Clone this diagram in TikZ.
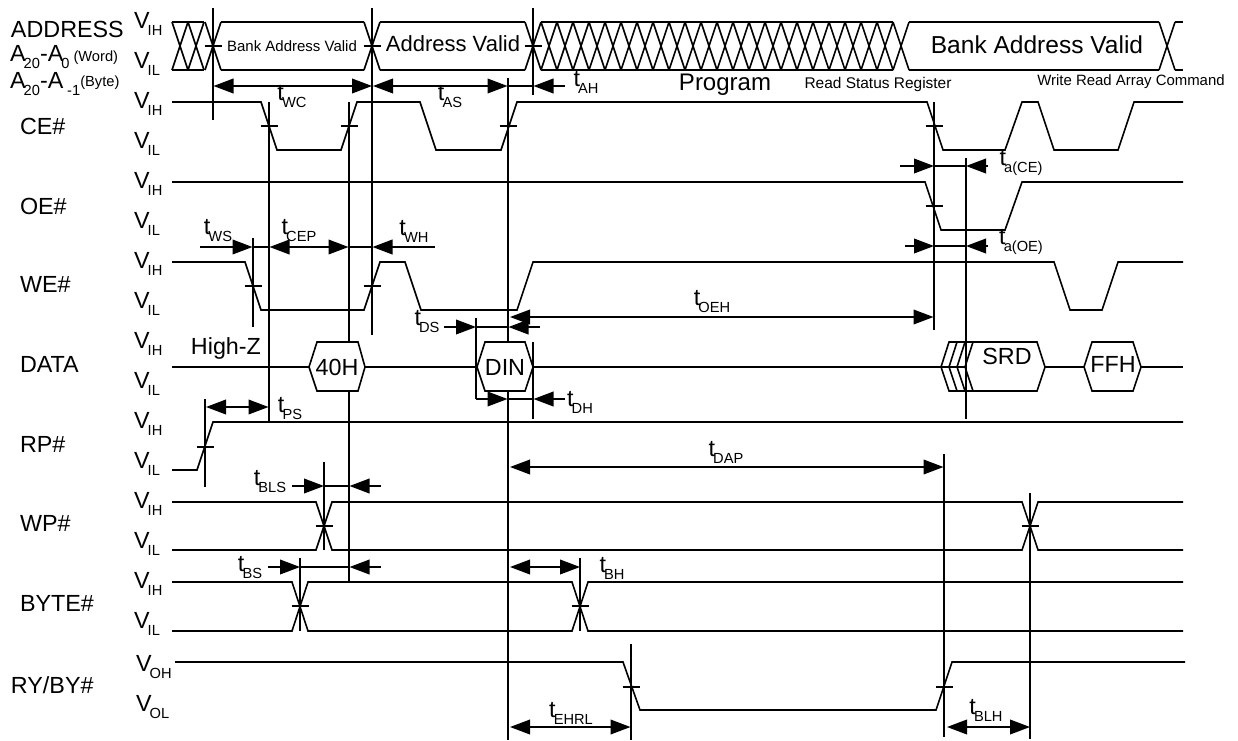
\documentclass[tikz,border=0pt]{standalone}
\usepackage{fontspec}
\setmainfont{Liberation Sans}
\usetikzlibrary{positioning,arrows.meta}
\newcommand\lsub[2]{#1\kern-1.4pt\raisebox{-.3em}{\fontsize{11}{11}\selectfont #2}}
\newcommand\smalltxt{\fontsize{11}{13}\selectfont}
\tikzset{
	vlab/.style={inner sep=0pt,text width=36pt,align=left},
	siglab/.style={inner sep=0pt,text width=60pt,align=left},
	addrlab/.style={inner sep=0pt,text width=90pt,align=left},
	tlab/.style={inner sep=0pt},
	sig/.style={line width=1.2pt},
	hexa/.style={line width=1.2pt,fill=white},
	dim/.style={line width=1.2pt}
}
\begin{document}
\begin{tikzpicture}[>={Triangle[length=15pt,width=11pt]},x=0.75pt,y=-0.75pt,node distance=30pt,font=\fontsize{17.5}{20}\selectfont]
	\useasboundingbox (0,0) rectangle (1238,740);
	\node [vlab] (vih0) at (158,24) {\lsub{V}{IH}};
	\node [vlab] (vil0) [below of=vih0] {\lsub{V}{IL}};
	\node [vlab] (vih1) [below of=vil0] {\lsub{V}{IH}};
	\node [vlab] (vil1) [below of=vih1] {\lsub{V}{IL}};
	\node [vlab] (vih2) [below of=vil1] {\lsub{V}{IH}};
	\node [vlab] (vil2) [below of=vih2] {\lsub{V}{IL}};
	\node [vlab] (vih3) [below of=vil2] {\lsub{V}{IH}};
	\node [vlab] (vil3) [below of=vih3] {\lsub{V}{IL}};
	\node [vlab] (vih4) [below of=vil3] {\lsub{V}{IH}};
	\node [vlab] (vil4) [below of=vih4] {\lsub{V}{IL}};
	\node [vlab] (vih5) [below of=vil4] {\lsub{V}{IH}};
	\node [vlab] (vil5) [below of=vih5] {\lsub{V}{IL}};
	\node [vlab] (vih6) [below of=vil5] {\lsub{V}{IH}};
	\node [vlab] (vil6) [below of=vih6] {\lsub{V}{IL}};
	\node [vlab] (vih7) [below of=vil6] {\lsub{V}{IH}};
	\node [vlab] (vil7) [below of=vih7] {\lsub{V}{IL}};
	\node [vlab] (voh) at (160,667) {\lsub{V}{OH}};
	\node [vlab] (vol) [below of=voh] {\lsub{V}{OL}};
	\node [addrlab] (address) at (71,29) {ADDRESS};
	\node [addrlab] (aword) at (70,57) {\lsub{A}{20}-\lsub{A}{0}\,{\smalltxt(Word)}};
	\node [addrlab] (abyte) at (70,84) {\lsub{A}{20}-A\,\raisebox{-.3em}{\smalltxt -1}\raisebox{.1em}{\smalltxt(Byte)}};
	\node [siglab] (ce) at (60,126) {CE\#};
	\node [siglab] (oe) [below of=ce,node distance=60pt] {OE\#};
	\node [siglab] (we) [below of=oe,node distance=59pt] {WE\#};
	\node [siglab] (data) [below of=we,node distance=60pt] {DATA};
	\node [siglab] (rp) [below of=data,node distance=60pt] {RP\#};
	\node [siglab] (wp) [below of=rp,node distance=59pt] {WP\#};
	\node [siglab] (byte) [below of=wp,node distance=60pt] {BYTE\#};
	\node [siglab] (ryby) at (51,685) {RY/BY\#};
	\draw [sig] (172,22) -- (204,22) (172,70) -- (204,70);
	\draw [sig] (221,22) -- (364,22) (221,70) -- (364,70);
	\draw [sig] (380,22) -- (525,22) (380,70) -- (525,70);
	\draw [sig] (541,22) -- (893,22) (541,70) -- (893,70);
	\draw [sig] (909,22) -- (1159,22) (909,70) -- (1159,70);
	\draw [sig] (1175,22) -- (1183,22) (1175,70) -- (1183,70);
	\foreach \x in {180,196,213,372,533,549,565,...,901,1167}
		\draw [sig] (\x-8,22) -- (\x+8,70) (\x-8,70) -- (\x+8,22);
	\draw [sig] (172,102) -- (261,102) -- (277,150) -- (341,150) -- (357,102) -- (420,102) -- (436,150) -- (501,150) -- (517,102) -- (927,102) -- (943,150) -- (1005,150) -- (1022,102) -- (1038,102) -- (1054,150) -- (1118,150) -- (1134,102) -- (1183,102);
	\draw [sig] (172,182) -- (925,182) -- (941,230) -- (1005,230) -- (1022,182) -- (1183,182);
	\draw [sig] (172,262) -- (245,262) -- (261,310) -- (364,310) -- (380,262) -- (405,262) -- (421,310) -- (517,310) -- (533,262) -- (1054,262) -- (1070,310) -- (1102,310) -- (1118,262) -- (1183,262);
	\draw [sig] (172,367) -- (941,367) (1045,367) -- (1084,367) (1140,367) -- (1183,367);
	\draw [sig] (172,470) -- (197,470) -- (213,422) -- (1183,422);
	\draw [sig] (172,502) -- (316,502) -- (332,550) -- (1022,550) -- (1038,502) -- (1183,502);
	\draw [sig] (172,550) -- (316,550) -- (332,502) -- (1022,502) -- (1038,550) -- (1183,550);
	\draw [sig] (172,582) -- (292,582) -- (308,631) -- (572,631) -- (588,582) -- (1183,582);
	\draw [sig] (172,631) -- (292,631) -- (308,582) -- (572,582) -- (588,631) -- (1183,631);
	\draw [sig] (175,662) -- (623,662) -- (640,710) -- (936,710) -- (952,662) -- (1185,662);
	\foreach \x/\y in {213/46,372/46,533/46,269/126,349/126,508/126,934/126,934/206,253/286,372/286,205/447,324/526,1030/526,300/606,580/606,631/687,944/687}
		\draw [sig] (\x-8.5,\y) -- (\x+8.5,\y);
	\draw [sig] (213,8) -- (213,120);
	\draw [sig] (372,8) -- (372,335);
	\draw [sig] (533,8) -- (533,95);
	\draw [sig] (508,78) -- (508,740);
	\draw [sig] (269,102) -- (269,422);
	\draw [sig] (349,102) -- (349,582);
	\draw [sig] (253,238) -- (253,327);
	\draw [sig] (934,102) -- (934,330);
	\draw [sig] (205,399) -- (205,487);
	\draw [sig] (324,462) -- (324,550);
	\draw [sig] (300,558) -- (300,631);
	\draw [sig] (580,558) -- (580,631);
	\draw [sig] (631,644) -- (631,740);
	\draw [sig] (944,454) -- (944,737);
	\draw [sig] (1030,493) -- (1030,739);
	\draw [hexa] (309,367) -- (317,342) -- (358,342) -- (365,367) -- (358,391) -- (317,391) -- cycle;
	\draw [hexa] (477,367) -- (485,342) -- (525,342) -- (533,367) -- (525,391) -- (485,391) -- cycle;
	\draw [hexa] (941,367) -- (949,342) -- (1037,342) -- (1045,367) -- (1037,391) -- (949,391) -- cycle;
	\draw [hexa] (1084,367) -- (1092,342) -- (1133,342) -- (1141,367) -- (1133,391) -- (1092,391) -- cycle;
	\draw [sig] (957,342) -- (949,367) -- (957,391) (965,342) -- (957,367) -- (965,391) (973,342) -- (965,367) -- (973,391) (941,367) -- (965,367);
	\draw [sig] (533,342) -- (533,419);
	\draw [sig] (476,318) -- (476,399);
	\draw [sig] (966,158) -- (966,419);
	\draw [dim,<->] (213.5,86) -- (372,86);
	\draw [dim,<->] (373,86) -- (507.5,86);
	\draw [dim] (508,86) -- (533,86);
	\draw [dim,<-] (533.5,86) -- (565,86);
	\draw [dim,->] (900,166) -- (934,166);
	\draw [dim] (934,166) -- (966,166);
	\draw [dim,<-] (966,166) -- (988,166);
	\draw [dim,->] (905,246) -- (934,246);
	\draw [dim] (934,246) -- (966,246);
	\draw [dim,<-] (966,246) -- (988,246);
	\draw [dim,->] (200,247) -- (252.5,247);
	\draw [dim] (252.5,247) -- (269,247);
	\draw [dim,<->] (269.5,247) -- (348.5,247);
	\draw [dim] (348.5,247) -- (372,247);
	\draw [dim,<-] (372.5,247) -- (435,247);
	\draw [dim,->] (444,327) -- (476,327);
	\draw [dim] (476,327) -- (508,327);
	\draw [dim,<-] (508.5,327) -- (540,327);
	\draw [dim,<->] (510,317) -- (933.5,317);
	\draw [dim,->] (476,399) -- (507.5,399);
	\draw [dim] (508,399) -- (533,399);
	\draw [dim,<-] (533.5,399) -- (565,399);
	\draw [dim,<->] (206,407) -- (268.5,407);
	\draw [dim,<->] (510,467) -- (943.5,467);
	\draw [dim,->] (292,486) -- (324,486);
	\draw [dim] (324,486) -- (349,486);
	\draw [dim,<-] (349.5,486) -- (381,486);
	\draw [dim,->] (268,567) -- (300,567);
	\draw [dim] (300,567) -- (349,567);
	\draw [dim,<-] (349.5,567) -- (381,567);
	\draw [dim,<->] (510,567) -- (580,567);
	\draw [dim,<->] (510,727) -- (630.5,727);
	\draw [dim,<->] (947,727) -- (1030,727);
	\node [tlab] (bankone) at (292,46) {\fontsize{11.25}{13}\selectfont Bank Address Valid};
	\node [tlab] (addrvalid) at (453,44) {\fontsize{16.5}{19}\selectfont Address Valid};
	\node [tlab] (banktwo) at (1037,45) {\fontsize{18.4}{21}\selectfont Bank Address Valid};
	\node [tlab] (program) at (725,85) {\fontsize{18}{21}\selectfont Program};
	\node [tlab] (readstatus) at (878,84) {\fontsize{11.6}{14}\selectfont Read Status Register};
	\node [tlab] (writeread) at (1131,82) {\fontsize{11.2}{14}\selectfont Write Read Array Command};
	\node [tlab] (highz) at (226,348) {High-Z};
	\node [tlab] (fortyh) at (337,367) {40H};
	\node [tlab] (din) at (505,367) {DIN};
	\node [tlab] (srd) at (1007,356) {SRD};
	\node [tlab] (ffh) at (1113,364) {FFH};
	\node [tlab] (twc) at (292,97) {\lsub{t}{WC}};
	\node [tlab] (tas) at (450,97) {\lsub{t}{AS}};
	\node [tlab] (tah) at (586,82) {\lsub{t}{AH}};
	\node [tlab] (tws) at (218,231) {\lsub{t}{WS}};
	\node [tlab] (tcep) at (299,231) {\lsub{t}{CEP}};
	\node [tlab] (twh) at (414,231) {\lsub{t}{WH}};
	\node [tlab] (tds) at (427,322) {\lsub{t}{DS}};
	\node [tlab] (tdh) at (580,402) {\lsub{t}{DH}};
	\node [tlab] (tps) at (290,409) {\lsub{t}{PS}};
	\node [tlab] (toeh) at (712,302) {\lsub{t}{OEH}};
	\node [tlab] (tdap) at (726,452) {\lsub{t}{DAP}};
	\node [tlab] (tbls) at (270,482) {\lsub{t}{BLS}};
	\node [tlab] (tbs) at (250,568) {\lsub{t}{BS}};
	\node [tlab] (tbh) at (612,568) {\lsub{t}{BH}};
	\node [tlab] (tehrl) at (571,713) {\lsub{t}{EHRL}};
	\node [tlab] (tblh) at (986,710) {\lsub{t}{BLH}};
	\node [tlab] (tace) at (1021,163) {\lsub{t}{a(CE)}};
	\node [tlab] (taoe) at (1021,242) {\lsub{t}{a(OE)}};
\end{tikzpicture}
\end{document}
